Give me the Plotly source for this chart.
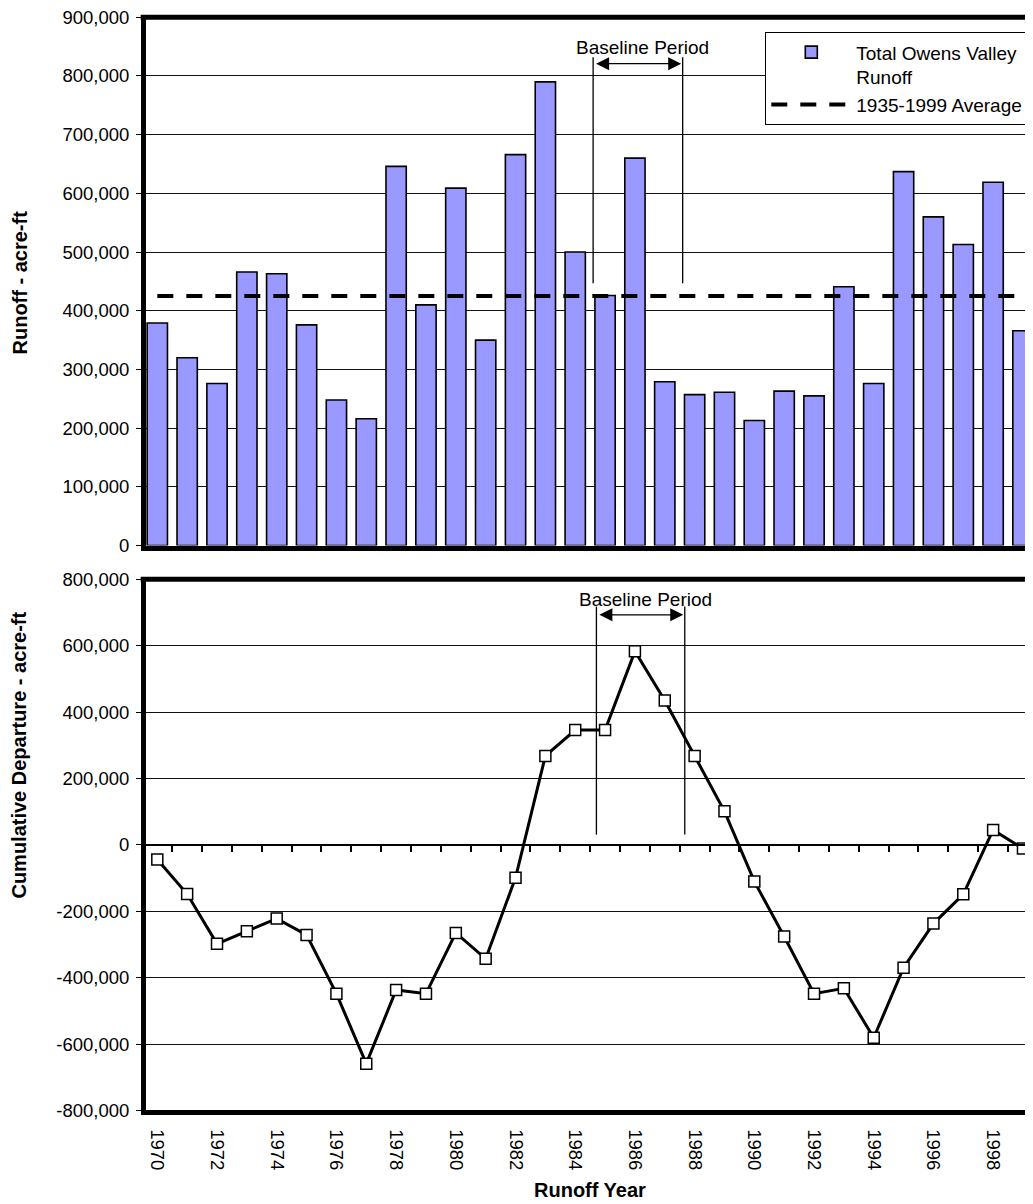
import plotly.graph_objects as go

# ---------------- data ----------------
YEARS = list(range(1970, 2000))
RUNOFF = [379000, 320000, 276000, 466000, 463000, 376000, 248000, 216000, 646000, 410000,
          609000, 350000, 666000, 790000, 500000, 426000, 660000, 279000, 257000, 261000,
          213000, 263000, 255000, 441000, 276000, 637000, 560000, 513000, 619000, 366000]
AVERAGE_1935_1999 = 425000
CUM_DEPARTURE = [-44000, -148000, -298000, -260000, -222000, -271000, -448000, -659000, -437000, -448000,
                 -265000, -343000, -99000, 268000, 346000, 346000, 583000, 435000, 268000, 101000,
                 -110000, -276000, -448000, -432000, -581000, -370000, -237000, -149000, 45000, -11000]
TOP_TICKS = list(range(0, 900001, 100000))
BOTTOM_TICKS = list(range(-800000, 800001, 200000))
YEAR_LABELS = YEARS[::2]

BAR_NAME = "Total Owens Valley<br>Runoff"
AVG_NAME = "1935-1999 Average"
BASELINE_TEXT = "Baseline Period"

# ---------------- style / layout ----------------
FONT = "Liberation Sans, Arial, sans-serif"
# page body adds an 8px offset, so the figure is 8px smaller than the window
W, H = 1025, 1196
X_RANGE = [1969.621, 1999.336]
TOP_DOMAIN = [0.55058, 0.99222]
BOT_DOMAIN = [0.07818, 0.52232]

fig = go.Figure()

fig.add_trace(go.Bar(
    x=YEARS, y=RUNOFF, width=0.68, name=BAR_NAME,
    marker=dict(color="#9999FF", line=dict(color="black", width=1.6)),
    xaxis="x", yaxis="y"))

fig.add_trace(go.Scatter(
    x=YEARS, y=[AVERAGE_1935_1999] * len(YEARS), mode="lines", name=AVG_NAME,
    line=dict(color="black", width=4, dash="16px,13px"),
    xaxis="x", yaxis="y"))

# invisible companion so the zero-crossing category axis (ticks at y=0) is drawn
fig.add_trace(go.Scatter(
    x=YEARS, y=CUM_DEPARTURE, mode="lines", showlegend=False, hoverinfo="skip",
    opacity=0, line=dict(width=0), xaxis="x3", yaxis="y2"))

fig.add_trace(go.Scatter(
    x=YEARS, y=CUM_DEPARTURE, mode="lines+markers", showlegend=False,
    line=dict(color="black", width=3),
    marker=dict(symbol="square", size=11, color="white", line=dict(color="black", width=1.5)),
    xaxis="x2", yaxis="y2"))

tickfont = dict(family=FONT, size=18.5, color="black")
common_x = dict(range=X_RANGE, showgrid=False, zeroline=False, showline=True,
                linecolor="black", linewidth=5, fixedrange=True, automargin=False,
                ticklabeloverflow="allow")
common_y = dict(showgrid=True, gridcolor="#111", gridwidth=1, zeroline=False, showline=True,
                linecolor="black", linewidth=5, ticks="outside", ticklen=5, tickwidth=1,
                tickcolor="black", tickfont=tickfont, automargin=False, ticklabelstandoff=3,
                ticklabeloverflow="allow")

fig.update_layout(
    template="none",
    width=W, height=H,
    margin=dict(l=138, r=0, t=0, b=0, autoexpand=False),
    paper_bgcolor="white", plot_bgcolor="white",
    font=dict(family=FONT, size=18, color="black"),
    xaxis=dict(**common_x, anchor="y", domain=[0, 1], showticklabels=False, ticks=""),
    yaxis=dict(**common_y, domain=TOP_DOMAIN, range=[0, 900000], anchor="x",
               tickvals=TOP_TICKS, ticktext=[f"{v:,}" for v in TOP_TICKS]),
    xaxis2=dict(**common_x, anchor="y2", domain=[0, 1], ticks="",
                tickvals=YEAR_LABELS, ticktext=[str(y) for y in YEAR_LABELS],
                tickangle=90, tickfont=tickfont, ticklabelstandoff=10),
    yaxis2=dict(**common_y, domain=BOT_DOMAIN, range=[-800000, 800000], anchor="x2",
                tickvals=BOTTOM_TICKS,
                ticktext=[f"{v:,}" for v in BOTTOM_TICKS]),
    xaxis3=dict(overlaying="x2", anchor="free", side="bottom",
                position=(BOT_DOMAIN[0] + BOT_DOMAIN[1]) / 2,
                range=X_RANGE, showgrid=False, zeroline=False, showline=True,
                linecolor="black", linewidth=1.5, ticks="outside", ticklen=6, tickwidth=1.5,
                tickcolor="black", showticklabels=False, automargin=False,
                tickvals=[y + 0.5 for y in YEARS]),
    legend=dict(x=0.6982, y=0.9797, xanchor="left", yanchor="top",
                bgcolor="white", bordercolor="black", borderwidth=1,
                font=dict(family=FONT, size=19, color="black"),
                itemwidth=80, tracegroupgap=6, valign="top"),
    showlegend=True,
)

# top borders of both panels
for xr, yr in (("x domain", "y domain"), ("x2 domain", "y2 domain")):
    fig.add_shape(type="line", xref=xr, yref=yr, x0=-0.006, x1=1, y0=1, y1=1,
                  line=dict(color="black", width=5))

# Baseline period markers
BASE_TOP = dict(x0=1984.60, x1=1987.60, y_low=447000, y_high=832000, arrow_y=821000,
                text_x=1986.24, text_y=848000, xref="x", yref="y")
BASE_BOT = dict(x0=1984.71, x1=1987.67, y_low=31000, y_high=718000, arrow_y=693000,
                text_x=1986.36, text_y=738000, xref="x2", yref="y2")
for b in (BASE_TOP, BASE_BOT):
    for xv in (b["x0"], b["x1"]):
        fig.add_shape(type="line", xref=b["xref"], yref=b["yref"], x0=xv, x1=xv,
                      y0=b["y_low"], y1=b["y_high"], line=dict(color="black", width=1.3))
    fig.add_annotation(x=b["x1"] - 0.05, y=b["arrow_y"], ax=b["x0"] + 0.05, ay=b["arrow_y"],
                       xref=b["xref"], yref=b["yref"], axref=b["xref"], ayref=b["yref"],
                       text="", showarrow=True, arrowside="end+start", arrowhead=2,
                       arrowsize=2, arrowwidth=1.3, arrowcolor="black")
    fig.add_annotation(x=b["text_x"], y=b["text_y"], xref=b["xref"], yref=b["yref"],
                       text=BASELINE_TEXT, showarrow=False,
                       font=dict(family=FONT, size=19, color="black"))

# axis titles
title_font = dict(family=FONT, size=20, color="black", weight="bold")
fig.add_annotation(text="Runoff - acre-ft", xref="paper", yref="paper",
                   x=-0.1415, y=0.7709, textangle=-90, showarrow=False,
                   xanchor="center", yanchor="middle", font=title_font)
fig.add_annotation(text="Cumulative Departure - acre-ft", xref="paper", yref="paper",
                   x=-0.1437, y=0.3754, textangle=-90, showarrow=False,
                   xanchor="center", yanchor="middle", font=title_font)
fig.add_annotation(text="Runoff Year", xref="paper", yref="paper",
                   x=0.5006, y=0.0115, showarrow=False,
                   xanchor="center", yanchor="middle", font=title_font)

fig.write_html("out.html")
